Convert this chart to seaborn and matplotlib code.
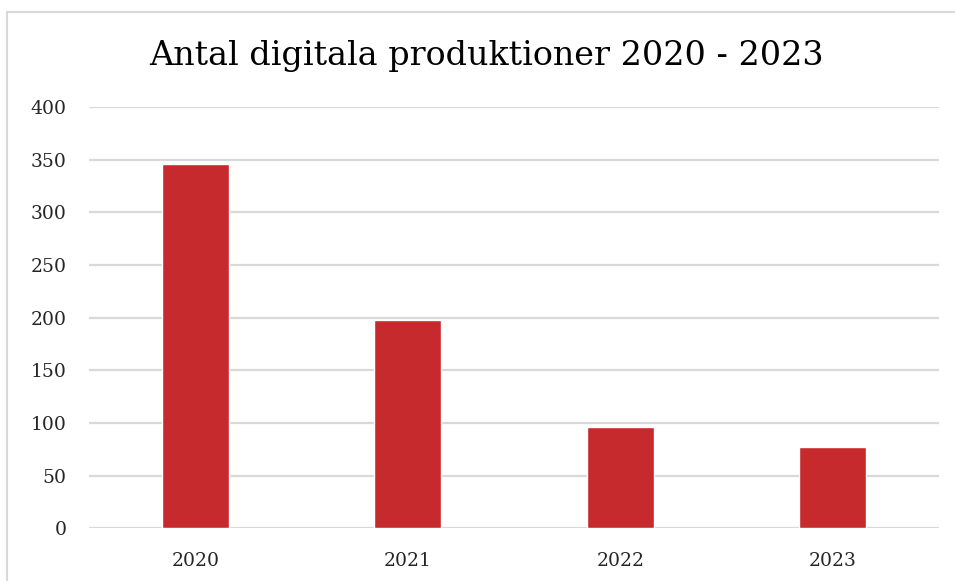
import matplotlib
matplotlib.use("Agg")
import matplotlib.pyplot as plt
import seaborn as sns
import pandas as pd
from matplotlib.patches import Rectangle

years = ["2020", "2021", "2022", "2023"]
counts = [346, 198, 96, 77]
y_ticks = [0, 50, 100, 150, 200, 250, 300, 350, 400]
title = "Antal digitala produktioner 2020 - 2023"

df = pd.DataFrame({"year": years, "count": counts})

sns.set_style("white")
plt.rcParams["font.family"] = ["DejaVu Serif"]

fig = plt.figure(figsize=(9.55, 5.81), dpi=100)
ax = fig.add_axes([89 / 955, 1 - 528.3 / 581, 850 / 955, 421.3 / 581])

sns.barplot(data=df, x="year", y="count", color="#C62A2C", width=0.313,
            saturation=1, ax=ax, zorder=3)

ax.set_xlim(-0.5, 3.5)
ax.set_ylim(0, 400)
ax.set_yticks(y_ticks)
ax.set_yticklabels([str(t) for t in y_ticks])
ax.yaxis.grid(True, color="#D9D9D9", linewidth=1.6, zorder=0)
ax.set_axisbelow(True)
for s in ax.spines.values():
    s.set_visible(False)
ax.tick_params(axis="y", length=0, pad=16, labelsize=13.5)
ax.tick_params(axis="x", length=0, pad=17, labelsize=13.5)
ax.set_xlabel("")
ax.set_ylabel("")

fig.text(486.5 / 955, 1 - 65 / 581, title, ha="center", va="baseline",
         fontsize=24, color="black")

# chart area border (cropped on right and bottom)
fig.patches.append(Rectangle((7 / 955, -0.1), 1.2, 1 - 12 / 581 + 0.1,
                             transform=fig.transFigure, fill=False,
                             edgecolor="#D9D9D9", linewidth=1.5))

fig.savefig("out.png", dpi=100)
